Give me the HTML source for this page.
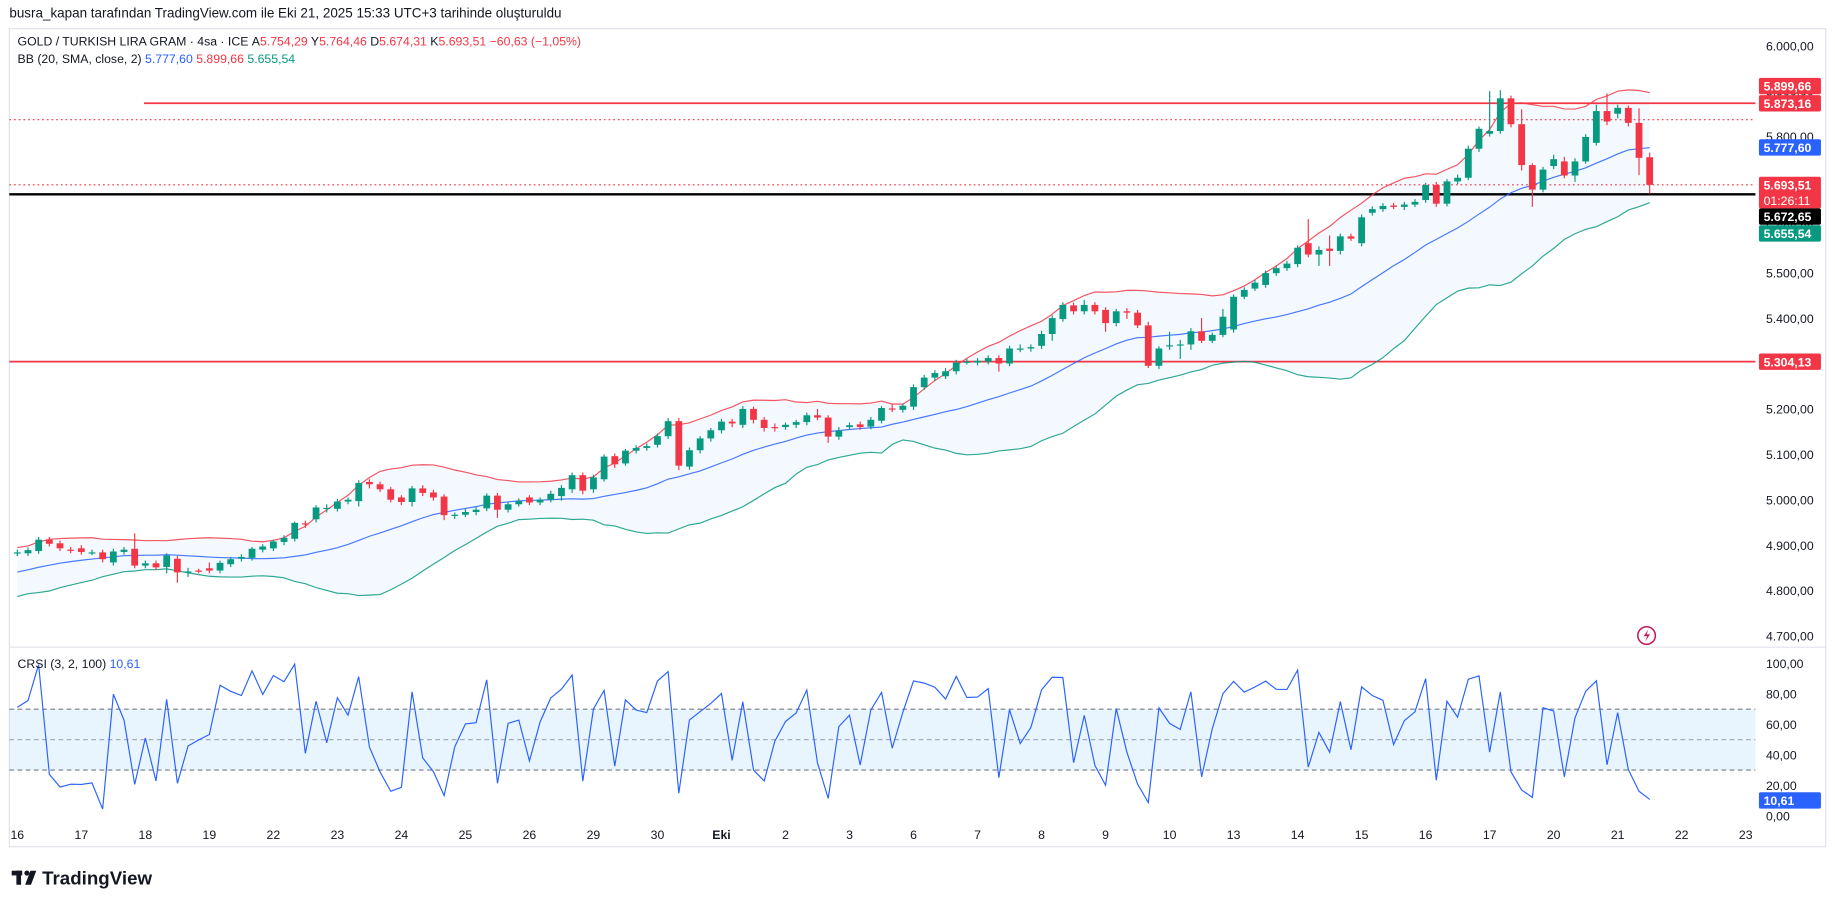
<!DOCTYPE html>
<html><head><meta charset="utf-8"><title>GOLD / TURKISH LIRA GRAM chart</title>
<style>
html,body{margin:0;padding:0;background:#fff;}
svg{display:block;font-family:"Liberation Sans",sans-serif;}
</style></head>
<body>
<svg id="chart" width="1835" height="909" viewBox="0 0 1568 776.7" xmlns="http://www.w3.org/2000/svg">
<rect x="0" y="0" width="1568" height="776.7" fill="#fff"/>
<text x="8" y="15" font-size="11.5" fill="#131722">busra_kapan tarafından TradingView.com ile Eki 21, 2025 15:33 UTC+3 tarihinde oluşturuldu</text>
<rect x="8" y="24.5" width="1552" height="699" fill="none" stroke="#e0e3eb" stroke-width="1"/>
<line x1="8" y1="553" x2="1560" y2="553" stroke="#e0e3eb" stroke-width="1"/>
<g id="main"></g>
<g id="crsi"></g>
<g id="axes"></g>
<g>
<text x="15" y="39" font-size="10.5" fill="#131722">GOLD / TURKISH LIRA GRAM · 4sa · ICE  <tspan>A</tspan><tspan fill="#f23645">5.754,29</tspan>  Y<tspan fill="#f23645">5.764,46</tspan>  D<tspan fill="#f23645">5.674,31</tspan>  K<tspan fill="#f23645">5.693,51</tspan>  <tspan fill="#f23645">−60,63 (−1,05%)</tspan></text>
<text x="15" y="54" font-size="10.5" fill="#131722">BB (20, SMA, close, 2)  <tspan fill="#2962ff">5.777,60</tspan> <tspan fill="#f23645">5.899,66</tspan> <tspan fill="#089981">5.655,54</tspan></text>
</g>
<text x="15" y="571" font-size="10.5" fill="#131722">CRSI (3, 2, 100)  <tspan fill="#2962ff">10,61</tspan></text>
<g>
<circle cx="1407" cy="543" r="7.5" fill="none" stroke="#c2185b" stroke-width="1.3"/>
<path d="M1408.5 538 L1404.5 543.5 L1407.5 543.5 L1405.8 548 L1410 542 L1407 542 Z" fill="#c2185b"/>
</g>
<g>
<rect x="10" y="744" width="9" height="4" fill="#131722"/>
<rect x="14" y="744" width="4" height="12" fill="#131722"/>
<circle cx="23" cy="746" r="2.2" fill="#131722"/>
<path d="M26 744 L31 744 L26.5 756 L21.5 756 Z" fill="#131722"/>
<text x="36" y="756" font-size="16" font-weight="bold" fill="#131722">TradingView</text>
</g>
</svg>
<script>
// ---- data ----
const preCloses = [4790,4800,4812,4805,4818,4825,4830,4822,4835,4840,4848,4845,4852,4860,4858,4866,4870,4875,4880];
const opens = [4882,4882,4887,4912,4904,4890,4893,4884,4884,4862,4885,4892,4855,4860,4852,4870,4842,4844,4849,4844,4858,4870,4872,4890,4893,4907,4914,4948,4957,4980,4980,4996,4997,5039,5034,5023,5005,4995,5025,5016,5007,4965,4967,4973,4981,5009,4978,4990,5005,4994,5000,5008,5023,5054,5023,5045,5096,5080,5108,5114,5121,5140,5173,5073,5109,5135,5153,5172,5165,5200,5176,5160,5160,5165,5171,5186,5181,5139,5160,5166,5161,5174,5201,5198,5205,5248,5269,5272,5283,5304,5302,5304,5312,5300,5333,5333,5339,5365,5398,5428,5415,5429,5418,5389,5415,5412,5384,5295,5338,5342,5342,5371,5350,5363,5375,5447,5465,5473,5499,5510,5519,5565,5540,5553,5548,5580,5565,5632,5640,5648,5645,5650,5660,5693,5652,5701,5709,5773,5806,5812,5884,5827,5737,5683,5735,5745,5714,5745,5786,5856,5850,5863,5830,5754.29];
const closes = [4884,4889,4912,4903,4893,4888,4885,4884,4869,4886,4890,4855,4860,4851,4877,4840,4842,4843,4844,4861,4869,4874,4892,4897,4908,4916,4949,4946,4983,4982,4996,5000,5037,5034,5023,5000,4995,5025,5015,5005,4966,4967,4973,4978,5009,4978,4990,4997,4994,5000,5013,5026,5054,5020,5049,5095,5078,5108,5114,5118,5140,5173,5075,5109,5135,5153,5172,5168,5200,5176,5158,5159,5165,5171,5186,5181,5139,5152,5164,5160,5176,5202,5199,5207,5248,5269,5279,5283,5302,5304,5306,5312,5300,5333,5333,5336,5365,5400,5429,5415,5429,5415,5389,5415,5412,5384,5295,5333,5340,5342,5371,5350,5363,5403,5447,5462,5478,5499,5510,5520,5555,5540,5550,5548,5580,5575,5622,5640,5647,5645,5650,5656,5693,5652,5701,5709,5773,5817,5812,5884,5827,5737,5683,5727,5750,5714,5745,5799,5856,5833,5863,5830,5753,5693.51];
const highs = [4890,4895,4918,4918,4910,4896,4900,4890,4890,4892,4896,4926,4866,4866,4882,4876,4850,4848,4862,4866,4874,4880,4896,4902,4912,4922,4952,4954,4988,4990,5002,5005,5043,5045,5040,5028,5010,5030,5032,5022,5012,4972,4980,4985,5014,5015,4995,5003,5010,5005,5020,5032,5060,5060,5055,5100,5102,5112,5120,5124,5146,5180,5180,5115,5140,5158,5178,5178,5206,5205,5182,5168,5170,5176,5192,5200,5186,5160,5170,5172,5182,5206,5210,5212,5254,5275,5285,5290,5308,5310,5312,5318,5318,5339,5342,5342,5372,5406,5435,5434,5440,5435,5424,5420,5422,5418,5392,5338,5370,5352,5378,5400,5368,5420,5452,5468,5484,5505,5516,5526,5560,5618,5558,5582,5586,5586,5628,5646,5653,5654,5656,5662,5698,5700,5706,5716,5780,5822,5900,5902,5890,5860,5741,5733,5760,5755,5752,5805,5870,5895,5870,5868,5862,5764.46];
const lows = [4876,4876,4881,4897,4887,4882,4879,4878,4862,4855,4879,4849,4849,4845,4838,4817,4830,4838,4838,4838,4852,4864,4866,4884,4887,4900,4908,4938,4950,4972,4974,4990,4985,5025,5017,4994,4988,4985,5008,4998,4955,4958,4962,4966,4975,4960,4972,4985,4988,4988,4994,4998,5015,5012,5015,5040,5070,5075,5102,5108,5115,5134,5065,5066,5102,5128,5146,5160,5158,5168,5150,5150,5154,5158,5164,5175,5125,5132,5155,5154,5155,5168,5193,5192,5198,5242,5262,5266,5276,5298,5296,5298,5282,5294,5325,5326,5332,5350,5392,5408,5408,5408,5370,5382,5398,5378,5290,5288,5330,5310,5330,5345,5345,5358,5368,5442,5460,5467,5493,5504,5512,5534,5515,5515,5540,5570,5558,5626,5634,5640,5638,5645,5654,5645,5646,5695,5704,5766,5800,5806,5820,5725,5645,5677,5728,5708,5700,5740,5780,5825,5840,5822,5715,5674.31];
const dayLabels = ['16','17','18','19','22','23','24','25','26','29','30','Eki','2','3','6','7','8','9','10','13','14','15','16','17','20','21','22','23'];
const priceTicks = [6000,5900,5800,5700,5600,5500,5400,5300,5200,5100,5000,4900,4800,4700];
const crsiTicks = [100,80,60,40,20,0];
const hLevels = [5873.16,5304.13];
const bbLast = [5777.60,5899.66,5655.54]; // basis, upper, lower as printed
const crsiLastLabel = 10.61;

// ---- scales ----
const NS='http://www.w3.org/2000/svg';
const step = 54.7/6, x0 = 14.8;
const X = i => x0 + i*step;
const Y = p => 39 + (6000-p)*0.388;
const YC = v => 697 - v*1.3;
const fmt = v => { const s=v.toFixed(2).split('.'); return s[0].replace(/\B(?=(\d{3})+(?!\d))/g,'.')+','+s[1]; };
function mk(tag, attrs, parent){ const e=document.createElementNS(NS,tag); for(const k in attrs) e.setAttribute(k,attrs[k]); parent.appendChild(e); return e; }
const main=document.getElementById('main'), cr=document.getElementById('crsi'), ax=document.getElementById('axes');

// ---- Bollinger ----
const all = preCloses.concat(closes), off = preCloses.length;
const mid=[], up=[], lo=[];
for(let i=0;i<closes.length;i++){
  const w = all.slice(i+off-19, i+off+1);
  const m = w.reduce((a,b)=>a+b,0)/w.length;
  const sd = Math.sqrt(w.reduce((a,b)=>a+(b-m)*(b-m),0)/w.length);
  mid.push(m); up.push(m+2*sd); lo.push(m-2*sd);
}
const ptsU = up.map((v,i)=>X(i).toFixed(1)+','+Y(v).toFixed(1));
const ptsL = lo.map((v,i)=>X(i).toFixed(1)+','+Y(v).toFixed(1));
const ptsM = mid.map((v,i)=>X(i).toFixed(1)+','+Y(v).toFixed(1));
let e = mk('polygon',{points: ptsU.concat(ptsL.slice().reverse()).join(' '), fill:'#2196f3','fill-opacity':'0.055'}, main);



// horizontal levels
e = mk('line',{x1:8,x2:1500,y1:Y(5837),y2:Y(5837),stroke:'#f23645','stroke-width':1,'stroke-dasharray':'1.5 2.5'},main);


e = mk('line',{x1:8,x2:1500,y1:Y(5693.51),y2:Y(5693.51),stroke:'#f23645','stroke-width':1,'stroke-dasharray':'1.5 2.5'},main);


hLevels.forEach((p,k)=>{
  const l = mk('line',{x1:k===0?123:8,x2:1500,y1:Y(p),y2:Y(p),stroke:'#f23645','stroke-width':1.5},main);
  
  
});
e = mk('line',{x1:8,x2:1500,y1:Y(5672.65),y2:Y(5672.65),stroke:'#000','stroke-width':2},main);



[[ptsU,'#f23645','bb-upper'],[ptsM,'#2962ff','bb-basis'],[ptsL,'#089981','bb-lower']].forEach(a=>{
  const pl = mk('polyline',{points:a[0].join(' '),fill:'none',stroke:a[1],'stroke-width':1,'stroke-opacity':0.85},main);
  
  
});

// candles
for(let i=0;i<closes.length;i++){
  const upC = closes[i]>=opens[i], col = upC?'#089981':'#f23645';
  const g = mk('g',{},main);
  
  
  mk('line',{x1:X(i),x2:X(i),y1:Y(highs[i]),y2:Y(lows[i]),stroke:col,'stroke-width':1},g);
  const t = Y(Math.max(opens[i],closes[i])), b = Y(Math.min(opens[i],closes[i]));
  mk('rect',{x:X(i)-2.9,y:t,width:5.8,height:Math.max(1,b-t),fill:col},g);
}

// ---- CRSI ----
function rma(src,len){ const out=[]; let v=null; src.forEach(s=>{ v = v===null? s : (v*(len-1)+s)/len; out.push(v); }); return out; }
function rsi(src,len){
  const g=[0],l=[0];
  for(let i=1;i<src.length;i++){ const d=src[i]-src[i-1]; g.push(Math.max(d,0)); l.push(Math.max(-d,0)); }
  const ag=rma(g,len), al=rma(l,len);
  return ag.map((a,i)=> al[i]===0 ? 100 : (a===0?0:100-100/(1+a/al[i])));
}
const streak=[0];
for(let i=1;i<all.length;i++){ const s=streak[i-1];
  if(all[i]>all[i-1]) streak.push(s>0?s+1:1); else if(all[i]<all[i-1]) streak.push(s<0?s-1:-1); else streak.push(0); }
const r3 = rsi(all,3), rs = rsi(streak,2);
const roc=[0]; for(let i=1;i<all.length;i++) roc.push((all[i]-all[i-1])/all[i-1]*100);
const crsiVals=[];
for(let i=off;i<all.length;i++){
  const from=Math.max(1,i-100); let c=0,n=0;
  for(let j=from;j<i;j++){ n++; if(roc[j]<roc[i]) c++; }
  const pr = n? c/n*100 : 50;
  crsiVals.push((r3[i]+rs[i]+pr)/3);
}
e = mk('rect',{x:8,y:YC(70),width:1492,height:YC(30)-YC(70),fill:'#2196f3','fill-opacity':'0.1'},cr);


[70,50,30].forEach(v=>{
  const l=mk('line',{x1:8,x2:1500,y1:YC(v),y2:YC(v),stroke:'#787b86','stroke-width':1,'stroke-dasharray':'4 3','stroke-opacity':v===50?0.6:1},cr);
  
  
});
e = mk('polyline',{points:crsiVals.map((v,i)=>X(i).toFixed(1)+','+YC(v).toFixed(1)).join(' '),fill:'none',stroke:'#2962ff','stroke-width':1},cr);



// ---- axes ----
priceTicks.forEach(p=>{
  const t=mk('text',{x:1509,y:Y(p)+4,'font-size':10.5,fill:'#131722'},ax);
  t.textContent=fmt(p);
  
  
});
crsiTicks.forEach(v=>{
  const t=mk('text',{x:1509,y:YC(v)+4,'font-size':10.5,fill:'#131722'},ax);
  t.textContent=fmt(v);
  
  
});
dayLabels.forEach((d,k)=>{
  const t=mk('text',{x:x0+k*54.7,y:717,'font-size':10.5,fill:'#131722','text-anchor':'middle','font-weight':d==='Eki'?'bold':'normal'},ax);
  t.textContent=d;
  
  
});
function badge(yc,bg,txt,name,h,sub){
  const g=mk('g',{},ax);
  
  
  h=h||14;
  mk('rect',{x:1503,y:yc-7,width:53,height:h,fill:bg,rx:1.5},g);
  const t=mk('text',{x:1507,y:yc+4,'font-size':10.5,'font-weight':'bold',fill:'#fff'},g); t.textContent=txt;
  if(sub){ const s=mk('text',{x:1507,y:yc+17,'font-size':10.5,fill:'#fff'},g); s.textContent=sub; }
}
badge(73.5,'#f23645',fmt(bbLast[1]),'bb-upper-price-label');
badge(Y(hLevels[0]),'#f23645',fmt(hLevels[0]),'level-price-label');
badge(126,'#2962ff',fmt(bbLast[0]),'bb-basis-price-label');
badge(158,'#f23645',fmt(closes[closes.length-1]),'last-price-label',27,'01:26:11');
badge(185,'#000',fmt(5672.65),'support-price-label');
badge(199.5,'#089981',fmt(bbLast[2]),'bb-lower-price-label');
badge(Y(hLevels[1]),'#f23645',fmt(hLevels[1]),'level-price-label-2');
badge(684,'#2962ff',fmt(crsiLastLabel),'crsi-value-label');
</script>
</body></html>
